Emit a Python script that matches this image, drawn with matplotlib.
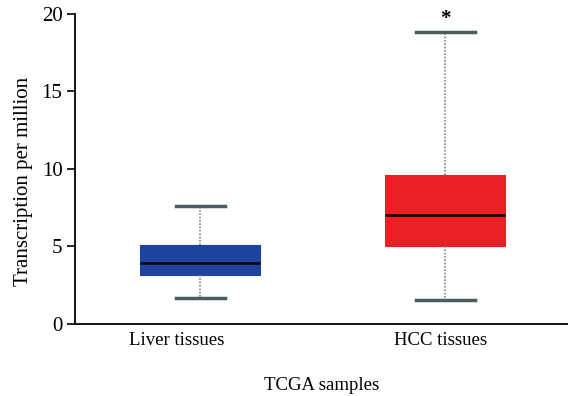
import matplotlib
matplotlib.use("Agg")
import matplotlib.pyplot as plt

categories = ["Liver tissues", "HCC tissues"]
whislo = [1.66, 1.55]
q1 = [3.16, 5.0]
med = [3.92, 7.03]
q3 = [5.1, 9.6]
whishi = [7.6, 18.8]
colors = ["#1f44a0", "#ec1e26"]
yticks = [0, 5, 10, 15, 20]

plt.rcParams['font.family'] = ['Liberation Serif', 'DejaVu Serif']

fig = plt.figure(figsize=(5.68, 3.96), dpi=100)
ax = fig.add_axes([0.132, 0.182, 0.868, 0.783])

stats = []
for i, c in enumerate(categories):
    stats.append(dict(label=c, whislo=whislo[i], q1=q1[i], med=med[i],
                      q3=q3[i], whishi=whishi[i], fliers=[]))

bp = ax.bxp(stats, positions=[0, 1], widths=0.49, patch_artist=True,
            showfliers=False,
            boxprops=dict(linewidth=0.8),
            medianprops=dict(color="black", linewidth=1.8),
            whiskerprops=dict(color="#7a8a8a", linewidth=1.2, linestyle=(0, (1, 1))),
            capprops=dict(color="#4a5c5c", linewidth=2.5),
            capwidths=[0.2, 0.24])
for patch, col in zip(bp['boxes'], colors):
    patch.set_facecolor(col)
    patch.set_edgecolor(col)

ax.text(1, whishi[1] + 0.25, "*", ha="center", va="bottom", fontsize=15, fontweight="bold")

ax.set_xlim(-0.51, 1.5)
ax.set_ylim(0, 20)
ax.set_yticks(yticks)
ax.spines['top'].set_visible(False)
ax.spines['right'].set_visible(False)
ax.spines['left'].set_linewidth(1.3)
ax.spines['bottom'].set_linewidth(1.3)
ax.tick_params(axis='y', length=6, width=1.2, labelsize=15, pad=3)
ax.tick_params(axis='x', length=0, labelsize=13.5, pad=6)
# tick labels sit slightly left of the boxes in the reference
ax.set_xticks([-0.095, 0.98])
ax.set_xticklabels(categories)
ax.set_ylabel("Transcription per million", fontsize=15)
ax.yaxis.set_label_coords(-0.085, 0.461)
ax.set_xlabel("TCGA samples", fontsize=13.5, labelpad=20)

fig.savefig("out.png", dpi=100)
